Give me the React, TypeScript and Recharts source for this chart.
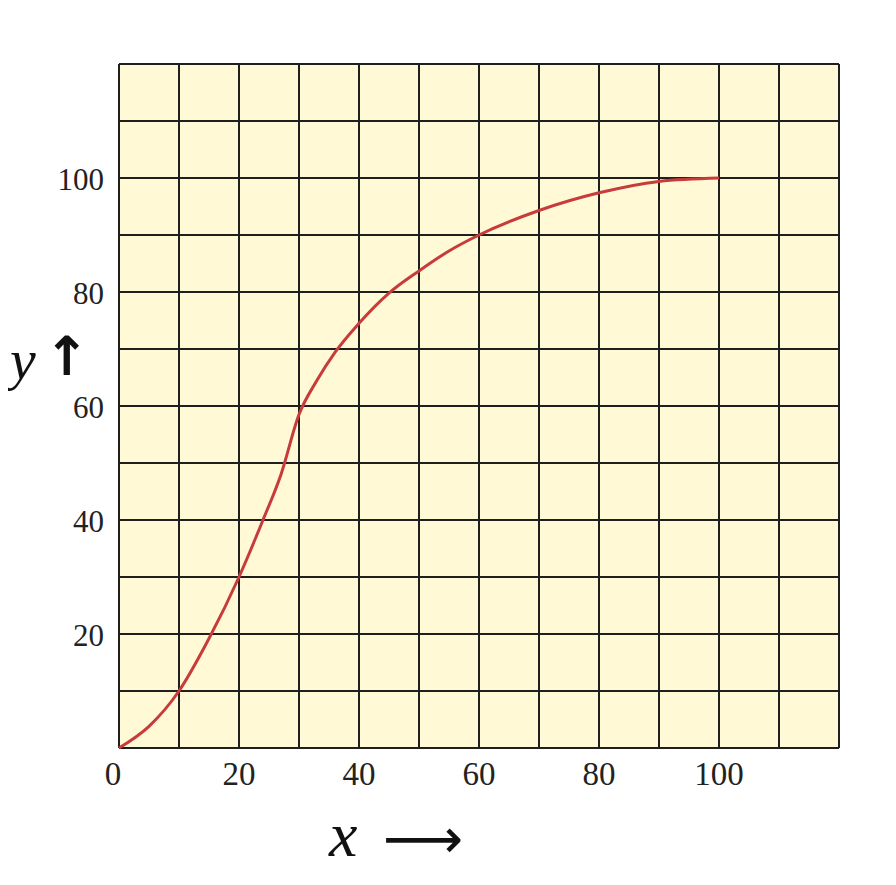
import React from 'react';
import { LineChart, Line, XAxis, YAxis, CartesianGrid } from 'recharts';

// curve (x, y)
const xValues = [0, 5, 10, 15, 20, 24, 27, 30, 33, 36, 40, 45, 50, 55, 60, 70, 80, 90, 100];
const yValues = [0, 3.8, 10, 19.2, 30, 40, 48, 58.5, 64.5, 69.4, 74.5, 79.8, 83.7, 87.2, 90, 94.3, 97.4, 99.4, 100];

const gridTicks = [0, 10, 20, 30, 40, 50, 60, 70, 80, 90, 100, 110, 120];
const xTickLabels = [0, 20, 40, 60, 80, 100];
const yTickLabels = [20, 40, 60, 80, 100];

const chartData = xValues.map((x, i) => ({ x, y: yValues[i] }));

const labelFont = '"Liberation Serif", "DejaVu Serif", serif';

const XTick = ({ x, y, payload }: any) => {
  if (!xTickLabels.includes(payload.value)) return null;
  return (
    <text
      x={x + (payload.value === 0 ? -6 : 0)}
      y={y + 29}
      textAnchor="middle"
      fontFamily={labelFont}
      fontSize={33}
      fill="#222"
    >
      {payload.value}
    </text>
  );
};

const YTick = ({ x, y, payload }: any) => {
  if (!yTickLabels.includes(payload.value)) return null;
  return (
    <text x={x - 7} y={y + 12} textAnchor="end" fontFamily={labelFont} fontSize={31} fill="#222">
      {payload.value}
    </text>
  );
};

const XTitle = ({ viewBox }: any) => {
  const cx = viewBox.x + 272;
  const cy = viewBox.y + 100;
  return (
    <g>
      <text x={cx - 62} y={cy + 8} fontFamily={labelFont} fontStyle="italic" fontSize={64} fill="#111">
        x
      </text>
      <text x={cx - 8} y={cy + 10} fontFamily='"DejaVu Sans", sans-serif' fontSize={56} fill="#111">
        ⟶
      </text>
    </g>
  );
};

const YTitle = ({ viewBox }: any) => {
  const cx = viewBox.x;
  const cy = viewBox.y + 315;
  return (
    <g>
      <text x={cx + 2} y={cy} fontFamily={labelFont} fontStyle="italic" fontSize={58} fill="#111">
        y
      </text>
      <text x={cx + 36} y={cy - 4} fontFamily='"DejaVu Sans", sans-serif' fontWeight="bold" fontSize={54} fill="#111">
        ↑
      </text>
    </g>
  );
};

export default function App() {
  return (
    <div style={{ width: 880, height: 870, background: '#fff' }}>
      <LineChart
        width={880}
        height={870}
        data={chartData}
        margin={{ top: 56, right: 49, bottom: 90, left: 0 }}
      >
        <CartesianGrid
          stroke="#1f1f1f"
          strokeWidth={2}
          fill="#FFF9D6"
          fillOpacity={1}
          horizontalValues={gridTicks}
          verticalValues={gridTicks}
        />
        <XAxis
          type="number"
          dataKey="x"
          domain={[0, 120]}
          ticks={gridTicks}
          interval={0}
          axisLine={false}
          tickLine={false}
          tick={<XTick />}
          height={40}
          label={<XTitle />}
        />
        <YAxis
          type="number"
          dataKey="y"
          domain={[0, 120]}
          ticks={gridTicks}
          interval={0}
          axisLine={false}
          tickLine={false}
          tick={<YTick />}
          width={111}
          label={<YTitle />}
        />
        <Line
          type="monotone"
          dataKey="y"
          stroke="#C73B3B"
          strokeWidth={3}
          dot={false}
          isAnimationActive={false}
        />
      </LineChart>
    </div>
  );
}
